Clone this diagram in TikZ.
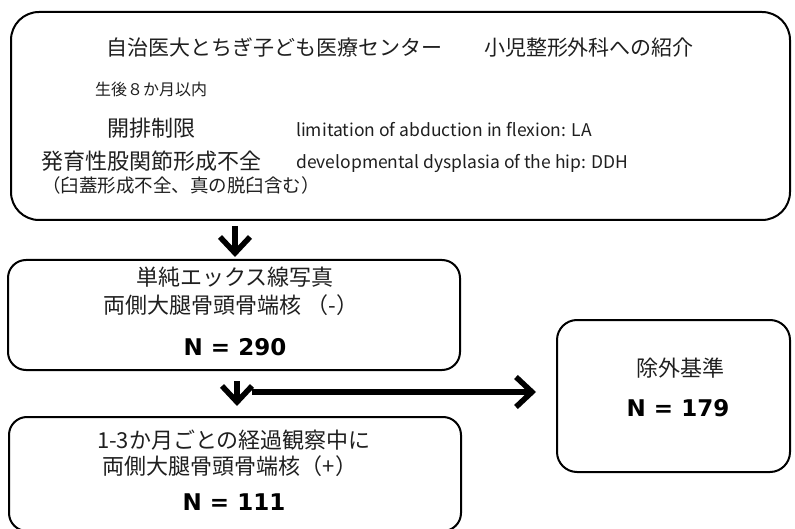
\documentclass[tikz,border=0pt]{standalone}
\usepackage{fontspec}
\setmainfont{Noto Sans CJK JP}
\newfontfamily\numfont{DejaVu Sans}
\usetikzlibrary{arrows.meta}
\begin{document}
\begin{tikzpicture}[x=1pt,y=-1pt,
  box/.style={draw, line width=2pt, rounded corners=#1, inner sep=0pt},
  txt/.style={inner sep=0pt, text=black!88},
  ja/.style={txt, font=\fontsize{#1}{#1}\selectfont},
  num/.style={inner sep=0pt, font=\numfont\bfseries\fontsize{23}{23}\selectfont},
  arr/.style={line width=5.5pt, -{Straight Barb[length=16pt, width=30pt, line join=miter]}}]
\clip (0,0) rectangle (795,529);
\useasboundingbox (0,0) rectangle (795,529);
% boxes
\node[box=28pt, minimum width=779pt, minimum height=208pt] (top) at (400.5,116) {};
\node[box=18pt, minimum width=452pt, minimum height=110pt] (xray) at (234,315) {};
\node[box=18pt, minimum width=452pt, minimum height=114pt] (follow) at (235,474) {};
\node[box=20pt, minimum width=233pt, minimum height=152pt] (excl) at (673.5,396) {};
% texts in top box
\node[ja=21] (title) at (400,48) {自治医大とちぎ子ども医療センター　　小児整形外科への紹介};
\node[ja=16, anchor=west] (age) at (95,89) {生後８か月以内};
\node[ja=22, anchor=west] (la) at (107,128) {開排制限};
\node[ja=17.5, anchor=west] (laen) at (296,130) {limitation of abduction in flexion: LA};
\node[ja=22, anchor=west] (ddh) at (41,161) {発育性股関節形成不全};
\node[ja=17.5, anchor=west] (ddhen) at (296,163) {developmental dysplasia of the hip: DDH};
\node[ja=18.5, anchor=west] (incl) at (42,185) {（臼蓋形成不全、真の脱臼含む）};
% x-ray box
\node[ja=22] (x1) at (235,277) {単純エックス線写真};
\node[ja=22] (x2) at (231,305) {両側大腿骨頭骨端核\hspace{5pt}（-）};
\node[num] (n290) at (235,347) {N = 290};
% follow-up box
\node[ja=22] (f1) at (234,440) {1-3か月ごとの経過観察中に};
\node[ja=22] (f2) at (230,466) {両側大腿骨頭骨端核（+）};
\node[num] (n111) at (234,502) {N = 111};
% exclusion box
\node[ja=22] (e1) at (680,368) {除外基準};
\node[num] (n179) at (678,408) {N = 179};
% arrows
\coordinate (ax) at (235,0);
\coordinate (bx) at (237,0);
\draw[arr] ([yshift=-5pt]top.south -| ax) -- ([yshift=2pt]xray.north -| ax);
\draw[arr] ([yshift=-10pt]xray.south -| bx) -- ([yshift=10pt]follow.north -| bx);
\coordinate (hs) at (252,392);
\draw[arr] (hs) -- ([xshift=-20pt]excl.west |- hs);
\end{tikzpicture}
\end{document}
